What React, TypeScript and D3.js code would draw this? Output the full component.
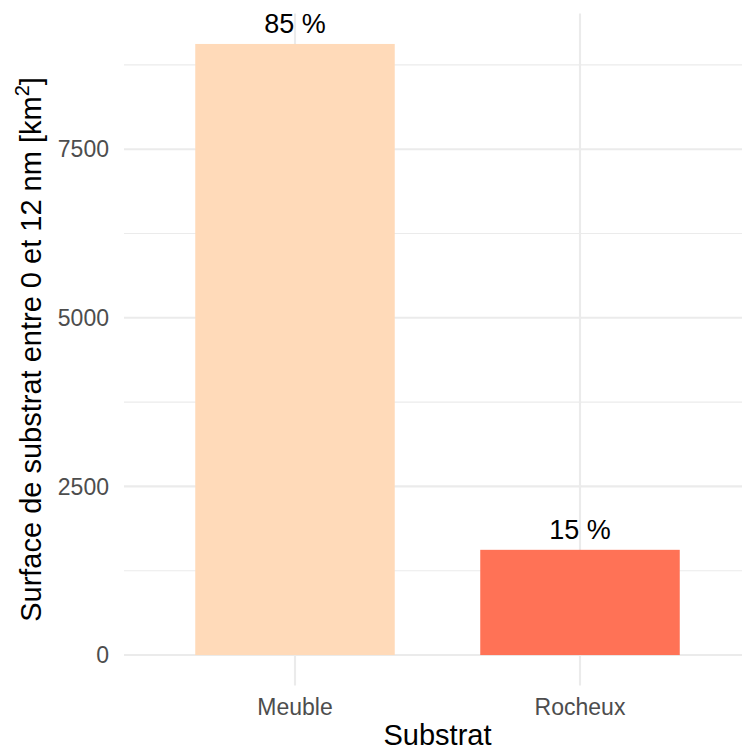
import React from "react";
import * as d3 from "d3";

const categories: string[] = ["Meuble", "Rocheux"];
const values: number[] = [9060, 1560];
const labels: string[] = ["85 %", "15 %"];
const colors: string[] = ["#FFDAB9", "#FF7256"];
const majorTicks: number[] = [0, 2500, 5000, 7500];
const minorTicks: number[] = [1250, 3750, 6250, 8750];

const W = 742;
const H = 751;
const FONT = "'Liberation Sans', Arial, sans-serif";

export default function App() {
  const panel = { left: 124, right: 751, top: 13.4, bottom: 685.6 };
  const maxV = d3.max(values) as number;
  const y = d3
    .scaleLinear()
    .domain([-0.05 * maxV, maxV * 1.05])
    .range([panel.bottom, panel.top]);
  const x = d3
    .scaleBand<string>()
    .domain(categories)
    .range([panel.left, panel.right])
    .paddingInner(0.3)
    .paddingOuter(0.25);
  const bw = x.bandwidth();

  return (
    <svg
      width={W}
      height={H}
      style={{ position: "absolute", left: 0, top: 0, background: "#fff" }}
      fontFamily={FONT}
    >
      <rect x={0} y={0} width={W} height={H} fill="#fff" />
      {minorTicks.map((t) => (
        <line
          key={"mi" + t}
          x1={panel.left}
          x2={panel.right}
          y1={y(t)}
          y2={y(t)}
          stroke="#EBEBEB"
          strokeWidth={1.1}
        />
      ))}
      {majorTicks.map((t) => (
        <line
          key={"ma" + t}
          x1={panel.left}
          x2={panel.right}
          y1={y(t)}
          y2={y(t)}
          stroke="#EBEBEB"
          strokeWidth={2.1}
        />
      ))}
      {categories.map((c) => (
        <line
          key={"v" + c}
          x1={(x(c) as number) + bw / 2}
          x2={(x(c) as number) + bw / 2}
          y1={panel.top}
          y2={panel.bottom}
          stroke="#EBEBEB"
          strokeWidth={2.1}
        />
      ))}
      {categories.map((c, i) => (
        <rect
          key={"b" + c}
          x={x(c) as number}
          y={y(values[i])}
          width={bw}
          height={y(0) - y(values[i])}
          fill={colors[i]}
        />
      ))}
      {categories.map((c, i) => (
        <text
          key={"l" + c}
          x={(x(c) as number) + bw / 2}
          y={y(values[i]) - 10.5}
          textAnchor="middle"
          fontSize={27}
          fill="#000"
        >
          {labels[i]}
        </text>
      ))}
      {majorTicks.map((t) => (
        <text
          key={"yt" + t}
          x={109}
          y={y(t)}
          dy="0.36em"
          textAnchor="end"
          fontSize={23}
          fill="#4D4D4D"
        >
          {t}
        </text>
      ))}
      {categories.map((c) => (
        <text
          key={"xt" + c}
          x={(x(c) as number) + bw / 2}
          y={715}
          textAnchor="middle"
          fontSize={23}
          fill="#4D4D4D"
        >
          {c}
        </text>
      ))}
      <text
        x={(panel.left + panel.right) / 2}
        y={745}
        textAnchor="middle"
        fontSize={29}
        fill="#000"
      >
        Substrat
      </text>
      <text
        transform={`translate(41, ${(panel.top + panel.bottom) / 2}) rotate(-90)`}
        textAnchor="middle"
        fontSize={29}
        fill="#000"
      >
        Surface de substrat entre 0 et 12 nm [km
        <tspan fontSize={20} dy={-12}>2</tspan>
        <tspan dy={12}>]</tspan>
      </text>
    </svg>
  );
}
